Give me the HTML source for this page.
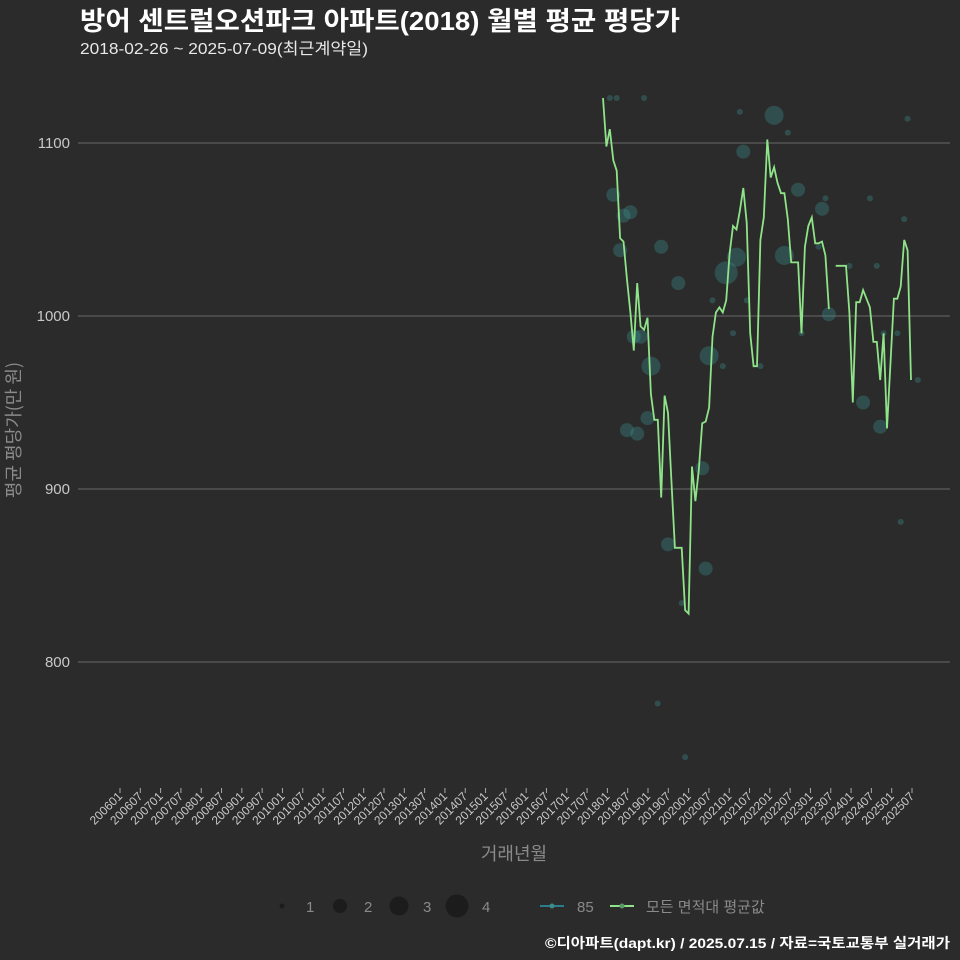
<!DOCTYPE html>
<html><head><meta charset="utf-8">
<style>
html,body{margin:0;padding:0;background:#2b2b2b;overflow:hidden;width:960px;height:960px;}
svg{display:block;}
svg text{font-family:"Liberation Sans","Noto Sans CJK KR",sans-serif;}
</style></head>
<body>
<svg id="chart" width="960" height="960" viewBox="0 0 960 960" xmlns="http://www.w3.org/2000/svg">
<rect x="0" y="0" width="960" height="960" fill="#2b2b2b"/>
<text x="80" y="30" font-size="26" font-weight="bold" fill="#ffffff" textLength="600" lengthAdjust="spacingAndGlyphs">방어 센트럴오션파크 아파트(2018) 월별 평균 평당가</text>
<text x="80" y="54" font-size="16" fill="#e8e8e8" textLength="288" lengthAdjust="spacingAndGlyphs">2018-02-26 ~ 2025-07-09(최근계약일)</text>
<g id="grid"></g>
<g id="yaxis"></g>
<g id="xaxis"></g>
<g id="bubbles"></g>
<path id="avgline" fill="none" stroke="#8fe388" stroke-width="1.8"/>
<text transform="translate(20,430) rotate(-90)" text-anchor="middle" font-size="18" fill="#8a8a8a" style="font-family:'Noto Sans CJK KR',sans-serif">평균 평당가(만 원)</text>
<text x="514" y="860" text-anchor="middle" font-size="18" fill="#8a8a8a">거래년월</text>
<g>
  <circle cx="282" cy="906" r="2.5" fill="#1c1c1c"/>
  <text x="306" y="912" font-size="15" fill="#8a8a8a">1</text>
  <circle cx="340" cy="906" r="7" fill="#1c1c1c"/>
  <text x="364" y="912" font-size="15" fill="#8a8a8a">2</text>
  <circle cx="399" cy="906" r="9.5" fill="#1c1c1c"/>
  <text x="423" y="912" font-size="15" fill="#8a8a8a">3</text>
  <circle cx="457" cy="906" r="11.5" fill="#1c1c1c"/>
  <text x="482" y="912" font-size="15" fill="#8a8a8a">4</text>
  <line x1="540" y1="906" x2="564" y2="906" stroke="#2a7d8a" stroke-width="2"/>
  <circle cx="552" cy="906" r="2.5" fill="#3c8a8a"/>
  <text x="577" y="912" font-size="15" fill="#8a8a8a">85</text>
  <line x1="610" y1="906" x2="634" y2="906" stroke="#8fe388" stroke-width="2"/>
  <circle cx="622" cy="906" r="2.5" fill="#5a9a6a"/>
  <text x="646" y="912" font-size="15" fill="#8a8a8a">모든 면적대 평균값</text>
</g>
<text x="950" y="948" text-anchor="end" font-size="14" font-weight="bold" fill="#ffffff" textLength="405" lengthAdjust="spacingAndGlyphs">©디아파트(dapt.kr) / 2025.07.15 / 자료=국토교통부 실거래가</text>
</svg>
<script>
// monthly averages starting 2018-02 (null = no data)
const avgValues = [1126,1098,1108,1090,1084,1045,1043,1021,1002,980,1019,994,992,999,955,940,940,895,954,944,905,866,866,866,830,828,913,893,911,938,939,947,988,1002,1005,1002,1009,1036,1052,1050,1061,1074,1054,990,971,971,1044,1057,1102,1080,1086,1077,1071,1071,1056,1031,1031,1031,990,1040,1052,1057,1042,1042,1043,1035,1004,null,1029,1029,1029,1029,1002,950,1008,1008,1015,1010,1005,985,985,963,990,935,973,1010,1010,1017,1044,1038,963];
// bubble series (85㎡): month index since 2018-02, value, transaction count
const bubbleMonths = [2,4,12,40,50,54,89,41,3,6,8,57,65,78,64,88,5,17,63,39,36,53,22,72,80,32,42,66,9,11,38,58,82,86,14,31,35,46,76,92,81,13,7,10,19,30,23,87,29,16,24];
const bubbleValues = [1126,1126,1126,1118,1116,1106,1114,1095,1070,1058,1060,1073,1068,1068,1062,1056,1038,1040,1040,1034,1025,1035,1019,1029,1029,1009,1009,1001,988,988,990,990,990,990,971,977,971,971,950,963,936,941,934,932,868,854,834,881,912,776,745];
const bubbleCounts = [1,1,1,1,3,1,1,2,2,2,2,2,1,1,2,1,2,2,1,3,4,3,2,1,1,1,1,2,2,2,1,1,1,1,3,3,1,1,2,1,2,2,2,2,2,2,1,1,2,1,1];
const yTicks = [800,900,1000,1100];
const xTickLabels = [];
for (let y=2006;y<=2025;y++){ xTickLabels.push(y+'01'); xTickLabels.push(y+'07'); }

const NS='http://www.w3.org/2000/svg';
const yScale = v => 143 + (1100 - v) * 1.73;
const xScale = m => 603 + m * (911 - 603) / (avgValues.length - 1);
const rScale = c => [0,3,7,9.5,11.5][c];
const tickX = i => 120 + i * (912 - 120) / (xTickLabels.length - 1);

const grid=document.getElementById('grid'), yaxis=document.getElementById('yaxis');
yTicks.forEach(t=>{
  const l=document.createElementNS(NS,'line');
  l.setAttribute('x1',78);l.setAttribute('x2',950);
  l.setAttribute('y1',yScale(t));l.setAttribute('y2',yScale(t));
  l.setAttribute('stroke','#6a6a6a');l.setAttribute('stroke-width','1');
  
  
  grid.appendChild(l);
  const tx=document.createElementNS(NS,'text');
  tx.setAttribute('x',70);tx.setAttribute('y',yScale(t)+5);
  tx.setAttribute('text-anchor','end');tx.setAttribute('font-size','15');tx.setAttribute('fill','#c8c8c8');
  tx.textContent=t;
  
  
  yaxis.appendChild(tx);
});
const xaxis=document.getElementById('xaxis');
xTickLabels.forEach((lab,i)=>{
  const x=tickX(i);
  const l=document.createElementNS(NS,'line');
  l.setAttribute('x1',x);l.setAttribute('x2',x);l.setAttribute('y1',788);l.setAttribute('y2',793);
  l.setAttribute('stroke','#aaa');
  
  
  xaxis.appendChild(l);
  const tx=document.createElementNS(NS,'text');
  tx.setAttribute('transform','translate('+(x+3)+',797) rotate(-45)');
  tx.setAttribute('text-anchor','end');tx.setAttribute('font-size','12');tx.setAttribute('fill','#c8c8c8');
  tx.textContent=lab;
  
  
  xaxis.appendChild(tx);
});
const bg=document.getElementById('bubbles');
bubbleMonths.forEach((m,i)=>{
  const c=document.createElementNS(NS,'circle');
  c.setAttribute('cx',xScale(m));c.setAttribute('cy',yScale(bubbleValues[i]));
  c.setAttribute('r',rScale(bubbleCounts[i]));
  c.setAttribute('fill','#3d8a8a');c.setAttribute('fill-opacity','0.38');
  
  
  bg.appendChild(c);
});
let d='',pen=false;
avgValues.forEach((v,i)=>{
  if(v===null){pen=false;return;}
  d+=(pen?'L':'M')+xScale(i).toFixed(1)+','+yScale(v).toFixed(1);
  pen=true;
});
document.getElementById('avgline').setAttribute('d',d);
</script>
</body></html>
